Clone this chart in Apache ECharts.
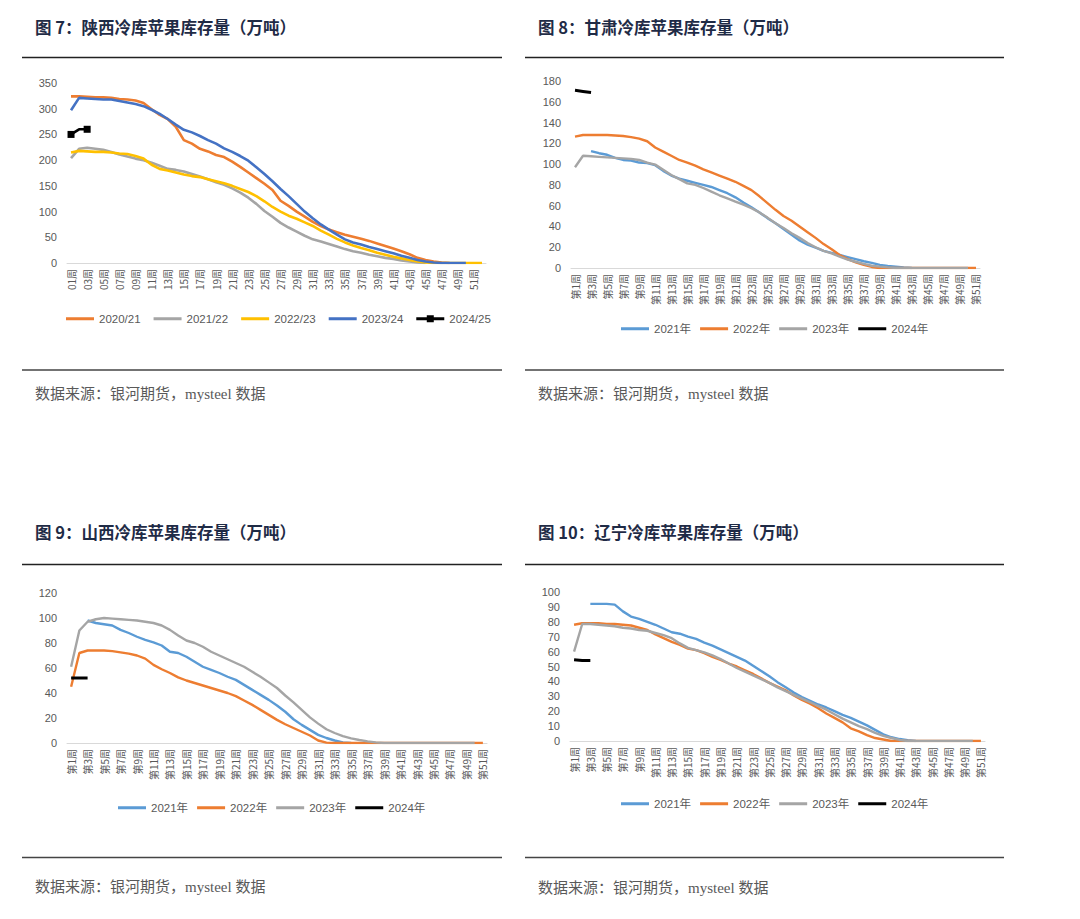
<!DOCTYPE html>
<html>
<head>
<meta charset="utf-8">
<script src="https://cdn.jsdelivr.net/npm/echarts@6/dist/echarts.min.js"></script>
<style>
html,body{margin:0;padding:0;background:#fff;}
#main{width:1080px;height:919px;}
</style>
</head>
<body>
<div id="main"></div>
<script>
// ---------- DATA ----------
var weeksA = ['01周','02周','03周','04周','05周','06周','07周','08周','09周','10周','11周','12周','13周','14周','15周','16周','17周','18周','19周','20周','21周','22周','23周','24周','25周','26周','27周','28周','29周','30周','31周','32周','33周','34周','35周','36周','37周','38周','39周','40周','41周','42周','43周','44周','45周','46周','47周','48周','49周','50周','51周','52周'];
var weeksB = ['第1周','第2周','第3周','第4周','第5周','第6周','第7周','第8周','第9周','第10周','第11周','第12周','第13周','第14周','第15周','第16周','第17周','第18周','第19周','第20周','第21周','第22周','第23周','第24周','第25周','第26周','第27周','第28周','第29周','第30周','第31周','第32周','第33周','第34周','第35周','第36周','第37周','第38周','第39周','第40周','第41周','第42周','第43周','第44周','第45周','第46周','第47周','第48周','第49周','第50周','第51周'];

var titles = ['图 7：陕西冷库苹果库存量（万吨）','图 8：甘肃冷库苹果库存量（万吨）','图 9：山西冷库苹果库存量（万吨）','图 10：辽宁冷库苹果库存量（万吨）'];
var sourceText = '数据来源：银河期货，mysteel 数据';

// 图7 陕西
var sxNames = ['2020/21','2021/22','2022/23','2023/24','2024/25'];
var sx2020 = [324,324,323,322,322,321,319,318,316,311,299,288,280,265,239,232,222,217,210,206,197,187,176,165,154,142,121,111,100,90,80,72,65,60,55,51,47,43,38,33,28,23,17,10,6,3,1,0];
var sx2021 = [204,222,224,222,220,216,211,207,203,200,195,189,183,181,178,173,168,163,157,152,145,137,127,115,101,90,78,69,61,53,46,42,37,32,27,23,20,16,13,10,8,5,3,1,0];
var sx2022 = [215,218,217,216,216,215,213,212,208,203,191,183,180,176,172,169,167,163,159,155,150,144,138,130,120,109,100,92,86,79,72,63,55,47,40,34,29,25,20,16,12,9,6,3,1,0,0,0,0,0,0,0];
var sx2023 = [297,321,320,319,318,318,315,312,309,305,298,290,280,269,259,254,247,239,232,223,216,208,199,186,173,159,144,130,115,100,87,75,65,55,46,40,36,31,27,23,19,14,10,6,3,1,0,0,0,0];
var sx2024 = [250,260,260];

// 图8 甘肃
var yearNames = ['2021年','2022年','2023年','2024年'];
var gs2021 = [null,null,112.5,110.5,109,106,104,103.5,101.5,101,99,93.5,89,86,84,82,80,78,75,72,68,63,58.5,53.5,48,43,37.5,32,26.5,22.5,19.5,16.5,14.5,12.5,10.5,8.5,6.5,5,3,2,1.3,0.6,0];
var gs2022 = [126.5,128,128,128,128,127.5,127,126,124.5,122,116,112,108,104,101.5,98.5,95,92,89,86,83,79,75,69,62.5,56,50,45.5,40,34.5,29,23,18,12.5,8.5,5.5,3,1,0,0,0,0,0,0,0,0,0,0,0,0,0];
var gs2023 = [97,108,107.5,107,106.5,106,105.5,105,104,101.5,99.5,94.5,89.5,85.5,81.5,80,77,73.5,70,67,64,61,57.5,53.5,48.5,43,38.5,33.5,29,24,20,16.5,14,11,8,6,4,2.2,1.3,0.6,0,0,0,0,0,0,0,0,0,0];
var gs2024 = [171,170,169];

// 图9 山西
var shx2021 = [null,null,98,96,95,94,90.5,88,85,82.5,80.5,78,73,72,69,65,61,58.5,56,53,50.5,46.5,42.5,38.5,34.5,30,25,19,14.5,10.5,6.5,4,2,0.5,0];
var shx2022 = [45,72,74,74,74,73.5,72.5,71.5,70,67.5,62.5,59,56,52.5,50,48,46,44,42,40,37.5,34,30.5,26.5,22.5,18.5,15,12,9,6,2,0.3,0,0,0,0,0,0,0,0,0,0,0,0,0,0,0,0,0,0,0];
var shx2023 = [61,90,97,99,100,99.5,99,98.5,98,97,96,94,90.5,86,82,80,77,73,70,67,64,61,57,53,48.5,44,38,32.5,26.5,20.5,15.5,11,8,5.5,3.7,2.4,1.3,0.5,0,0,0,0,0,0,0,0,0,0,0,0];
var shx2024 = [52,52,52];

// 图10 辽宁
var ln2021 = [null,null,92,92,92,91.5,87,83.5,82,80,78,75.5,73,72,70,68.5,66,64,61.5,59,56.5,54,50.5,47,43.5,39.5,36,32.5,29.5,27,24.5,22.5,20,17.5,15.5,13,10.5,7.5,4.5,2.5,1.3,0.6,0];
var ln2022 = [78,79,79,79,78.5,78.5,78,77.5,76,74.5,71.5,69,66.5,64.5,62,61,59,56.5,54.5,52,50,47.5,45,42,39,36.5,34,30.5,27.5,25,22,18.5,15.5,12.5,8.5,6.5,4,2,1,0,0,0,0,0,0,0,0,0,0,0,0];
var ln2023 = [60,78.5,78.5,78,77.5,77,76,75.5,74.5,74,72.5,71,69,65.5,62.5,61,59.5,57.5,55,52,49,46.5,44,41.5,39,36,33.5,31,28.5,26,23.5,21,18,15,12.5,10,8,5.5,3.5,2,0.7,0,0,0,0,0,0,0,0,0];
var ln2024 = [54.5,54,54];

// ---------- STYLE ----------
var colorsA = ['#ED7D31','#A5A5A5','#FFC000','#4472C4','#000000'];
var colorsB = ['#5B9BD5','#ED7D31','#A5A5A5','#000000'];
var txtColor = '#595959';
var titleColor = '#1f2b46';

var grids = [
  {left:67, top:83, width:419, height:180},
  {left:571, top:81, width:409, height:187},
  {left:67, top:593, width:420, height:150},
  {left:570, top:592, width:415, height:149}
];
var yRanges = [[350,50],[180,20],[120,20],[100,10]];
var cats = [weeksA, weeksB, weeksB, weeksB];

var xAxes = [], yAxes = [], series = [], legends = [];
for (var g = 0; g < 4; g++) {
  xAxes.push({
    type:'category', gridIndex:g, data:cats[g], boundaryGap:true,
    axisLine:{lineStyle:{color:'#d9d9d9', width:1}},
    axisTick:{show:false},
    axisLabel:{rotate:90, interval:1, fontSize:10, color:txtColor, margin:6, fontFamily:'"Noto Sans CJK SC", sans-serif'}
  });
  yAxes.push({
    type:'value', gridIndex:g, min:0, max:yRanges[g][0], interval:yRanges[g][1],
    axisLine:{show:false}, axisTick:{show:false}, splitLine:{show:false},
    axisLabel:{fontSize:11, color:txtColor, margin:10, fontFamily:'"Liberation Sans", sans-serif'}
  });
}

function addLine(g, name, data, color, width, sym) {
  series.push({
    type:'line', name:name, xAxisIndex:g, yAxisIndex:g, data:data,
    symbol: sym ? 'rect' : 'none', symbolSize: sym ? 7 : 0, showSymbol: !!sym,
    lineStyle:{color:color, width:width}, itemStyle:{color:color},
    connectNulls:false, smooth:false, animation:false
  });
}

var sxData = [sx2020, sx2021, sx2022, sx2023, sx2024];
for (var i = 0; i < 5; i++) addLine(0, sxNames[i], sxData[i], colorsA[i], 2.6, i === 4);
var groups = [[gs2021,gs2022,gs2023,gs2024],[shx2021,shx2022,shx2023,shx2024],[ln2021,ln2022,ln2023,ln2024]];
for (var k = 0; k < 3; k++) {
  for (var j = 0; j < 4; j++) addLine(k+1, yearNames[j], groups[k][j], colorsB[j], j === 3 ? 3 : 2.4, false);
}

// legend icons: plain line (with tiny invisible-size anchors to keep a 10px box) and line with square marker
var iconLine = 'path://M0,0 L0.05,0 L0.05,0.05 Z M0,10 L0.05,10 L0.05,9.95 Z M0,3.6 L28,3.6 L28,6.4 L0,6.4 Z';
var iconLineSq = 'path://M0,0 L0.05,0 L0.05,0.05 Z M0,10 L0.05,10 L0.05,9.95 Z M0,3.6 L28,3.6 L28,6.4 L0,6.4 Z M10.5,1.5 L17.5,1.5 L17.5,8.5 L10.5,8.5 Z';

var legendPos = [[66,313,13],[621,323,9],[118,802,9],[621,798,9]];
for (var m = 0; m < 4; m++) {
  var names = m === 0 ? sxNames : yearNames;
  var items = [];
  for (var n = 0; n < names.length; n++) {
    items.push({name:names[n], icon:(m === 0 && n === 4) ? iconLineSq : iconLine});
  }
  legends.push({
    data: items,
    left: legendPos[m][0], top: legendPos[m][1], itemGap: legendPos[m][2],
    itemWidth: 28, itemHeight: 10, orient:'horizontal', selectedMode:false,
    textStyle:{color:txtColor, fontSize:11.5, fontFamily:'"Liberation Sans", "Noto Sans CJK SC", sans-serif'},
    padding:0
  });
}

var titleComps = [];
var tPos = [[35,19],[538,19],[35,524],[538,524]];
var sPos = [[35,386],[538,386],[35,879],[538,880]];
for (var t = 0; t < 4; t++) {
  titleComps.push({text:titles[t], left:tPos[t][0], top:tPos[t][1], padding:0,
    textStyle:{color:titleColor, fontSize:16.5, fontWeight:'bold', fontFamily:'"Noto Sans CJK SC", sans-serif'}});
  titleComps.push({text:sourceText, left:sPos[t][0], top:sPos[t][1], padding:0,
    textStyle:{color:txtColor, fontSize:15, fontWeight:'normal', fontFamily:'"Liberation Serif", "Noto Sans CJK SC", serif'}});
}

function rule(x1, x2, y, c) {
  return {type:'line', shape:{x1:x1, y1:y, x2:x2, y2:y}, style:{stroke:c, lineWidth:1.5}, silent:true};
}
var graphics = [
  rule(22,502,57.5,'#222'), rule(525,1004,57.5,'#222'),
  rule(22,502,370,'#444'), rule(525,1004,370,'#444'),
  rule(22,502,564.5,'#222'), rule(525,1004,564.5,'#222'),
  rule(22,502,857.5,'#444'), rule(525,1004,857.5,'#444')
];

var chart = echarts.init(document.getElementById('main'), null, {renderer:'svg'});
chart.setOption({
  backgroundColor:'#ffffff',
  animation:false,
  title: titleComps,
  grid: grids,
  xAxis: xAxes,
  yAxis: yAxes,
  legend: legends,
  series: series,
  graphic: graphics
});
</script>
</body>
</html>
